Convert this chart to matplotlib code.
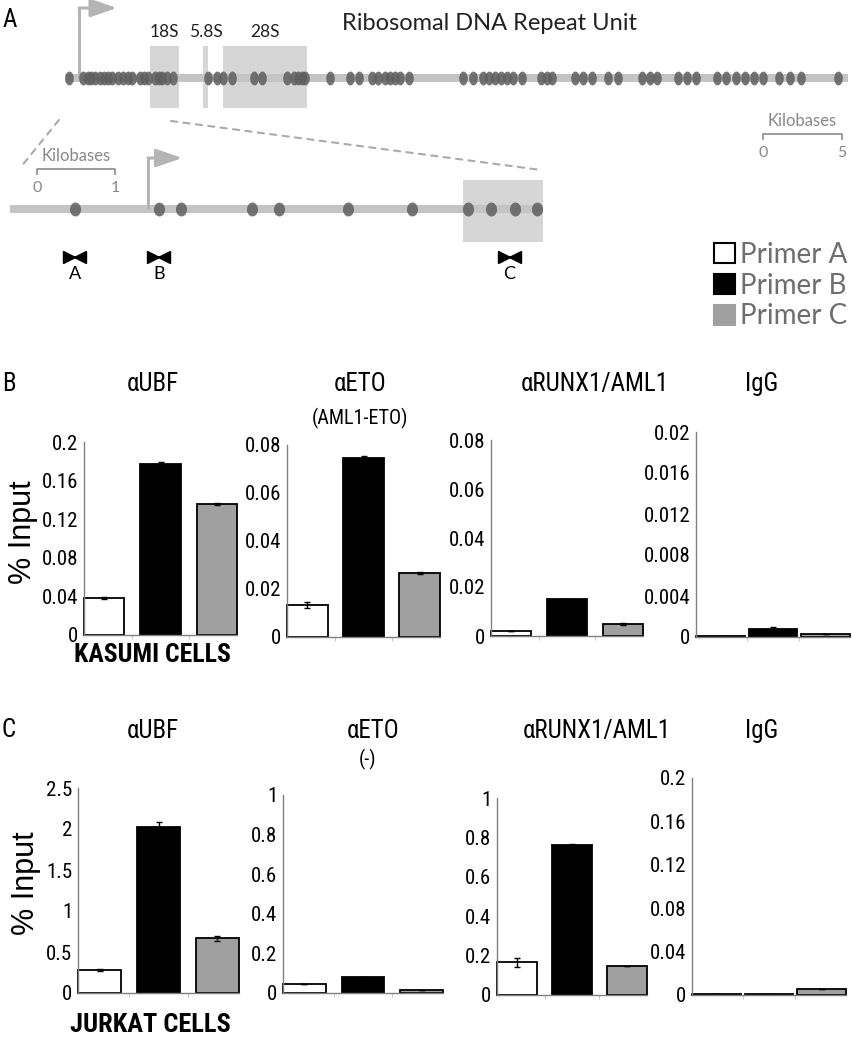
import numpy as np
import matplotlib
matplotlib.use("Agg")
import matplotlib.pyplot as plt
from matplotlib import font_manager
from matplotlib.path import Path
from matplotlib.patches import Patch, ConnectionPatch

W, H = 852, 1050

# -----------------------------
# Data
# -----------------------------

# Panel A, top map: rDNA repeat unit, positions in kb from the transcription start
rdna_span_kb = [-0.9, 48.7]
rdna_sites_kb = [-0.63, 0.25, 0.57, 0.76, 1.01, 1.33, 1.58, 1.84, 2.09, 2.47, 2.78,
                 3.10, 3.35, 3.86, 4.11, 4.37, 4.81, 5.06, 5.25, 5.57, 5.95, 8.16,
                 8.73, 9.11, 9.68, 11.08, 11.58, 13.16, 13.61, 13.86, 14.11, 14.30,
                 15.89, 17.15, 17.72, 18.54, 18.92, 19.37, 19.68, 20.00, 20.32, 20.89,
                 24.30, 24.94, 25.57, 25.95, 26.33, 26.71, 27.09, 27.47, 28.04, 29.24,
                 29.62, 29.94, 31.39, 31.90, 32.47, 33.48, 34.11, 35.63, 36.14, 36.58,
                 37.91, 38.48, 39.05, 40.38, 40.95, 41.58, 42.15, 42.72, 43.29, 44.30,
                 45.00, 45.70, 48.04]
gene_names = ["18S", "5.8S", "28S"]
gene_start_kb = [4.49, 7.85, 9.11]
gene_end_kb = [6.33, 8.16, 14.43]
zoom_region_kb = [-1.27, 5.82]

# Panel A, bottom map: promoter region
promoter_span_kb = [-1.77, 5.06]
promoter_sites_kb = [-0.94, 0.14, 0.42, 1.33, 1.68, 2.56, 3.38, 4.10, 4.40, 4.71, 4.99]
promoter_box_kb = [4.04, 5.06]
primer_names = ["A", "B", "C"]
primer_kb = [-0.94, 0.14, 4.63]

primer_labels = ["Primer A", "Primer B", "Primer C"]
antibodies_kasumi = ["αUBF", "αETO", "αRUNX1/AML1", "IgG"]
antibodies_jurkat = ["αUBF", "αETO", "αRUNX1/AML1", "IgG"]

# Panel B: Kasumi cells, % input
kasumi_ubf = [0.038, 0.177, 0.136]
kasumi_ubf_err = [0.001, 0.002, 0.0012]
kasumi_eto = [0.0133, 0.0746, 0.0267]
kasumi_eto_err = [0.0012, 0.0008, 0.0004]
kasumi_runx1 = [0.002, 0.0151, 0.0049]
kasumi_runx1_err = [0.0, 0.0, 0.0006]
kasumi_igg = [0.0001, 0.0008, 0.0003]
kasumi_igg_err = [0.0, 0.0002, 0.0]

# Panel C: Jurkat cells, % input
jurkat_ubf = [0.28, 2.02, 0.67]
jurkat_ubf_err = [0.015, 0.06, 0.03]
jurkat_eto = [0.045, 0.08, 0.015]
jurkat_eto_err = [0.0, 0.0, 0.0]
jurkat_runx1 = [0.165, 0.76, 0.147]
jurkat_runx1_err = [0.025, 0.005, 0.0]
jurkat_igg = [0.001, 0.001, 0.0055]
jurkat_igg_err = [0.0, 0.0, 0.0]

# -----------------------------
# Fonts / styles
# -----------------------------

_installed = {f.name for f in font_manager.fontManager.ttflist}


def first_font(*names):
    for n in names:
        if n in _installed:
            return n
    return "DejaVu Sans"


NARROW = first_font("Liberation Sans Narrow", "Roboto Condensed", "Liberation Sans")
ARIAL = first_font("Liberation Sans", "DejaVu Sans")
MYRIAD = first_font("Lato", "Open Sans", "DejaVu Sans")
plt.rcParams["font.family"] = [NARROW, "DejaVu Sans"]

BAR_COLORS = ["white", "black", "#a0a0a0"]
LINE_GREY = "#c4c4c4"
BOX_GREY = "#d6d6d6"
DOT_GREY = "#5e5e5e"
ARROW_GREY = "#b4b4b4"
TEXT_GREY = "#6e6e6e"

fig = plt.figure(figsize=(W / 100, H / 100), dpi=100)


def ftxt(x, y, s, **kw):
    kw.setdefault("ha", "center")
    kw.setdefault("va", "center")
    return fig.text(x / W, 1 - y / H, s, **kw)


def ellipse_marker(aspect):
    t = np.linspace(0, 2 * np.pi, 48)
    return Path(np.column_stack([aspect * np.cos(t), np.sin(t)]), closed=True)


def map_axes(origin_px, px_per_kb):
    ax = fig.add_axes([0, 0, 1, 1], zorder=0)
    ax.set_xlim(-origin_px / px_per_kb, (W - origin_px) / px_per_kb)
    ax.set_ylim(H, 0)
    ax.axis("off")
    ax.patch.set_visible(False)
    return ax


def tss_arrow(ax, y_line, y_top, length_kb):
    ax.plot([0, 0], [y_line, y_top], color=ARROW_GREY, lw=2.2, zorder=2,
            solid_capstyle="butt")
    ax.annotate("", xy=(length_kb, y_top), xytext=(0, y_top),
                arrowprops=dict(arrowstyle="-|>,head_length=1.6,head_width=0.55",
                                color=ARROW_GREY, lw=2.2, shrinkA=0, shrinkB=0))


def scale_bar(ax, x0, kb, y, label):
    ax.plot([x0, x0, x0 + kb, x0 + kb], [y + 5, y, y, y + 5], color="#8a8a8a", lw=1.2)
    ax.text(x0 + kb / 2, y - 13, "Kilobases", ha="center", va="center",
            family=MYRIAD, fontsize=12, color="#888888")
    ax.text(x0, y + 19, "0", ha="center", va="center", family=MYRIAD,
            fontsize=11.5, color="#888888")
    ax.text(x0 + kb, y + 19, label, ha="center", va="center", family=MYRIAD,
            fontsize=11.5, color="#888888")


# -----------------------------
# Panel A: maps
# -----------------------------

ax_top = map_axes(79, 15.8)
ax_top.broken_barh(list(zip(gene_start_kb, np.subtract(gene_end_kb, gene_start_kb))),
                   (46, 62), facecolors=BOX_GREY, zorder=1)
ax_top.plot(rdna_span_kb, [78, 78], color=LINE_GREY, lw=5.8, solid_capstyle="butt", zorder=2)
ax_top.plot(rdna_sites_kb, [78] * len(rdna_sites_kb), ls="none",
            marker=ellipse_marker(0.62), ms=10, mfc=DOT_GREY, mec="none",
            alpha=0.85, zorder=3)
for name, s, e in zip(gene_names, gene_start_kb, gene_end_kb):
    ax_top.text((s + e) / 2, 32, name, ha="center", va="center",
                family=MYRIAD, fontsize=12.5, color="#222222")
tss_arrow(ax_top, 78, 8, 2.4)
scale_bar(ax_top, 43.29, 5, 134, "5")

ax_low = map_axes(148, 78)
ax_low.broken_barh([(promoter_box_kb[0], promoter_box_kb[1] - promoter_box_kb[0])],
                   (180, 62), facecolors=BOX_GREY, zorder=1)
ax_low.plot(promoter_span_kb, [209, 209], color=LINE_GREY, lw=5.8,
            solid_capstyle="butt", zorder=2)
ax_low.plot(promoter_sites_kb, [209] * len(promoter_sites_kb), ls="none",
            marker=ellipse_marker(0.8), ms=10, mfc=DOT_GREY, mec="none",
            alpha=0.85, zorder=3)
tss_arrow(ax_low, 209, 158, 0.44)
scale_bar(ax_low, -1.42, 1, 169, "1")

half_tri = 5.5 / 78
for name, p in zip(primer_names, primer_kb):
    ax_low.plot([p - 0.13, p + 0.13], [257, 257], color="black", lw=1.2)
    ax_low.plot([p - half_tri], [257], marker=">", ms=8, color="black", ls="none")
    ax_low.plot([p + half_tri], [257], marker="<", ms=8, color="black", ls="none")
    ax_low.text(p, 274, name, ha="center", va="center", family=MYRIAD,
                fontsize=13, color="black")

for a_kb, b_kb, ya, yb in [(zoom_region_kb[0], promoter_span_kb[0] + 0.13, 120, 168),
                           (zoom_region_kb[1], promoter_span_kb[1] - 0.02, 121, 170)]:
    con = ConnectionPatch(xyA=(a_kb, ya), coordsA="data", axesA=ax_top,
                          xyB=(b_kb, yb), coordsB="data", axesB=ax_low,
                          color="#aaaaaa", lw=1.5, linestyle=(0, (3, 3)))
    fig.add_artist(con)

ftxt(489, 23, "Ribosomal DNA Repeat Unit", family=MYRIAD, fontsize=17, color="#222222")

fig.legend(handles=[Patch(facecolor=c, edgecolor="black" if c != "#a0a0a0" else c, lw=1.5)
                    for c in BAR_COLORS],
           labels=primer_labels, loc="upper left",
           bbox_to_anchor=(714 / W, 1 - 242 / H), frameon=False,
           prop=dict(family=MYRIAD, size=20), labelcolor=TEXT_GREY,
           handlelength=0.75, handleheight=0.75, handletextpad=0.2,
           labelspacing=0.17, borderpad=0, borderaxespad=0)

# -----------------------------
# Panels B and C: bar charts
# -----------------------------


def bar_panel(box, values, errors, ymax, step, width):
    left, right, top, zero = box
    ax = fig.add_axes([left / W, 1 - zero / H, (right - left) / W, (zero - top) / H])
    x = np.arange(len(values))
    ax.bar(x, values, width=width, color=BAR_COLORS, edgecolor="black", linewidth=1.3,
           yerr=errors, capsize=2, clip_on=False,
           error_kw=dict(elinewidth=1, capthick=1, ecolor="black"))
    ax.set_xlim(-width / 2, len(values) - 1 + width / 2)
    ax.set_ylim(0, ymax)
    ticks = np.round(np.arange(0, ymax + step / 2, step), 4)
    ax.set_yticks(ticks)
    ax.set_yticklabels([f"{t:g}" for t in ticks])
    ax.tick_params(axis="y", length=0, pad=4, labelsize=15)
    ax.set_xticks(x[:-1] + 0.5)
    ax.tick_params(axis="x", length=3, color="#c8c8c8", labelbottom=False)
    for s in ("top", "right"):
        ax.spines[s].set_visible(False)
    for s in ("left", "bottom"):
        ax.spines[s].set_color("#808080")
        ax.spines[s].set_linewidth(1)
    ax.patch.set_visible(False)
    return ax


bar_panel((84, 237, 442, 635), kasumi_ubf, kasumi_ubf_err, 0.2, 0.04, 0.71)
bar_panel((287, 440, 445, 637), kasumi_eto, kasumi_eto_err, 0.08, 0.02, 0.73)
bar_panel((491, 643, 440, 636), kasumi_runx1, kasumi_runx1_err, 0.08, 0.02, 0.71)
bar_panel((696, 850, 432, 637), kasumi_igg, kasumi_igg_err, 0.02, 0.004, 0.92)

bar_panel((78, 239, 788, 993), jurkat_ubf, jurkat_ubf_err, 2.5, 0.5, 0.73)
bar_panel((283, 443, 795, 993), jurkat_eto, jurkat_eto_err, 1.0, 0.2, 0.73)
bar_panel((497, 647, 798, 995), jurkat_runx1, jurkat_runx1_err, 1.0, 0.2, 0.73)
bar_panel((692, 846, 778, 995), jurkat_igg, jurkat_igg_err, 0.2, 0.04, 0.92)

# titles
for name, x in zip(antibodies_kasumi, [153, 360, 595, 762]):
    ftxt(x, 384, name, fontsize=18)
ftxt(360, 418, "(AML1-ETO)", fontsize=14.5)
for name, x in zip(antibodies_jurkat, [153, 373, 597, 762]):
    ftxt(x, 731, name, fontsize=18)
ftxt(368, 759, "(-)", fontsize=14.5)

# axis labels and cell lines
ftxt(23, 532, "% Input", rotation=90, family=ARIAL, fontsize=22)
ftxt(26, 883, "% Input", rotation=90, family=ARIAL, fontsize=22)
ftxt(152, 655, "KASUMI CELLS", fontsize=18.5, fontweight="bold")
ftxt(150, 1025, "JURKAT CELLS", fontsize=19, fontweight="bold")

# panel letters
ftxt(10, 20, "A", fontsize=18)
ftxt(9, 384, "B", fontsize=18)
ftxt(9, 730, "C", fontsize=18)

fig.savefig("out.png", dpi=100)
